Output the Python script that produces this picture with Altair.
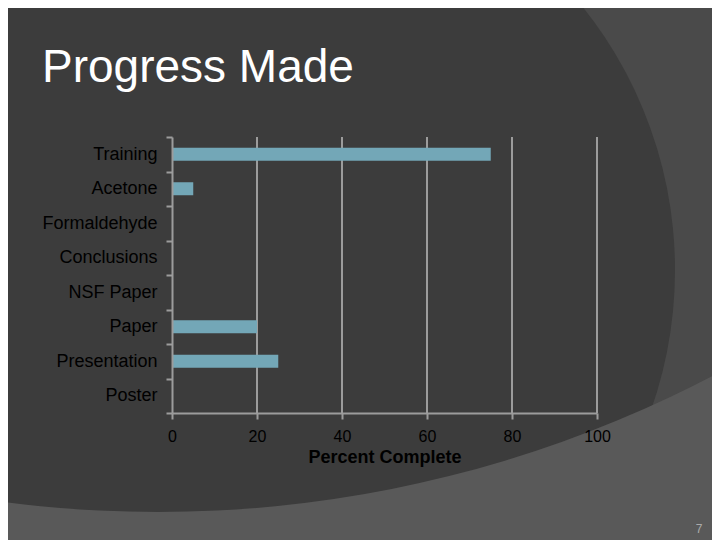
import altair as alt
import pandas as pd
import math

categories = ["Training", "Acetone", "Formaldehyde", "Conclusions",
              "NSF Paper", "Paper", "Presentation", "Poster"]
values = [75, 5, 0, 0, 0, 20, 25, 0]
x_ticks = [0, 20, 40, 60, 80, 100]
slide_title = "Progress Made"
page_number = "7"
x_title = "Percent Complete"

FONT = "Liberation Sans"
W, H = 425, 276
OX, OY = 172, 137  # plot origin on the page

bars_df = pd.DataFrame({"task": categories, "pct": values})
grid_df = pd.DataFrame({"v": x_ticks[1:]})
one = pd.DataFrame({"k": [0]})

xscale = alt.Scale(domain=[0, 100])
yscale = alt.Scale(domain=categories, paddingInner=0, paddingOuter=0)

# decorative slide background shapes
circle_dark = alt.Chart(one).mark_arc(
    theta=0, theta2=2 * math.pi, radius=421, color="#3c3c3c"
).encode(x=alt.value(254 - OX), y=alt.value(270 - OY))

ring_light = alt.Chart(one).mark_arc(
    theta=0, theta2=2 * math.pi, radius=1500, radius2=1198, color="#595959"
).encode(x=alt.value(158 - OX), y=alt.value(-686 - OY))

grid = alt.Chart(grid_df).mark_rule(color="#9c9c9c", strokeWidth=2).encode(
    x=alt.X("v:Q", scale=xscale),
    y=alt.value(0),
    y2=alt.value(H),
)

bars = alt.Chart(bars_df).mark_bar(color="#73a7b7", size=13).encode(
    x=alt.X(
        "pct:Q",
        scale=xscale,
        axis=alt.Axis(
            values=x_ticks, grid=False, title=x_title,
            domainColor="#9c9c9c", domainWidth=2,
            tickColor="#9c9c9c", tickWidth=2, tickSize=6,
            labelColor="#000000", labelFont=FONT, labelFontSize=16,
            labelPadding=9, labelFlush=False,
            titleColor="#000000", titleFont=FONT, titleFontSize=18,
            titleFontWeight="bold", titlePadding=4, zindex=1,
        ),
    ),
    y=alt.Y(
        "task:N",
        scale=yscale,
        sort=categories,
        axis=alt.Axis(
            title=None, grid=False, tickBand="extent",
            domainColor="#9c9c9c", domainWidth=2,
            tickColor="#9c9c9c", tickWidth=2, tickSize=6,
            labelColor="#000000", labelFont=FONT, labelFontSize=18,
            labelPadding=9, zindex=1,
        ),
    ),
)

title_txt = alt.Chart(one).mark_text(
    text=slide_title, font=FONT, fontSize=46, color="#ffffff",
    align="left", baseline="alphabetic",
).encode(x=alt.value(42 - OX), y=alt.value(82 - OY))

page_txt = alt.Chart(one).mark_text(
    text=page_number, font=FONT, fontSize=12, color="#aaaaaa",
    align="center", baseline="alphabetic",
).encode(x=alt.value(699 - OX), y=alt.value(533 - OY))

chart = alt.layer(circle_dark, ring_light, grid, bars, title_txt, page_txt).properties(
    width=W, height=H,
    autosize=alt.AutoSizeParams(type="none"),
    padding={"left": OX - 8, "top": OY - 8, "right": 704 - (OX - 8) - W,
             "bottom": 532 - (OY - 8) - H},
).configure(background="#4a4a4a").configure_view(stroke=None)

chart.save("out.html", embed_options={"renderer": "svg", "actions": False})
